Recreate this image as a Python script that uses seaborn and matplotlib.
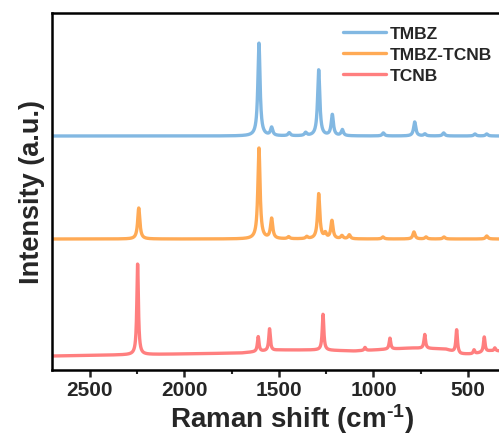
import numpy as np
import pandas as pd
import matplotlib
matplotlib.use("Agg")
import matplotlib.pyplot as plt
import seaborn as sns
from matplotlib.ticker import MultipleLocator

# ---- data ----
series_names = ["TMBZ", "TMBZ-TCNB", "TCNB"]
series_colors = ["#82B8E2", "#FFAA55", "#FF7F7F"]
series_offsets = [234, 131, 14]

# peak centres (cm-1) and heights (a.u.)
tmbz_centers = [1606, 1539, 1446, 1359, 1290, 1218, 1165, 948, 782, 728, 629, 463, 401]
tmbz_heights = [93, 8, 3, 3, 66, 21, 6, 3, 14, 2, 3, 2, 2]

mix_centers = [2242, 1606, 1539, 1449, 1353, 1290, 1255, 1220, 1167, 1128, 950, 786, 722, 627, 401]
mix_heights = [31, 91, 20, 2, 2, 45, 5, 18, 3, 4, 2, 7, 2, 2, 3]

tcnb_centers = [2248, 1610, 1550, 1267, 1045, 913, 729, 560, 468, 414, 358]
tcnb_heights = [91, 15, 22, 36, 3, 11, 14, 23, 4, 15, 3]

# background knots for the TCNB trace
tcnb_bg_x = [2700, 1700, 1500, 1300, 1100, 800, 620, 540, 470, 385, 335]
tcnb_bg_y = [0, 3, 6, 6, 5, 8, 7, 2, 2, 5, 5]

xticks = [2500, 2000, 1500, 1000, 500]

# ---- build spectra ----
x = np.linspace(2701, 336, 3000)

def spectrum(centers, heights, gamma=7.0):
    y = np.zeros_like(x)
    for c, h in zip(centers, heights):
        y += h * gamma**2 / ((x - c) ** 2 + gamma**2)
    return y

ys = [
    spectrum(tmbz_centers, tmbz_heights) + series_offsets[0],
    spectrum(mix_centers, mix_heights) + series_offsets[1],
    spectrum(tcnb_centers, tcnb_heights, gamma=5.0)
    + np.interp(x, tcnb_bg_x[::-1], tcnb_bg_y[::-1]) + series_offsets[2],
]

df = pd.concat(
    [pd.DataFrame({"shift": x, "intensity": y, "sample": n}) for n, y in zip(series_names, ys)],
    ignore_index=True,
)

# ---- plot ----
sns.set_style("white")
plt.rcParams["font.family"] = ["Liberation Sans", "DejaVu Sans"]
plt.rcParams["font.weight"] = "bold"
plt.rcParams["mathtext.fontset"] = "custom"
plt.rcParams["mathtext.rm"] = "Liberation Sans:bold"
plt.rcParams["mathtext.bf"] = "Liberation Sans:bold"
plt.rcParams["mathtext.default"] = "bf"

fig = plt.figure(figsize=(4.99, 4.35), dpi=100)
ax = fig.add_axes([52 / 499, 1 - 371 / 435, 447 / 499, (371 - 14) / 435])

sns.lineplot(
    data=df, x="shift", y="intensity", hue="sample",
    palette=dict(zip(series_names, series_colors)),
    hue_order=series_names, linewidth=2.4, ax=ax, sort=False, estimator=None,
)

ax.set_xlim(2701, 336)
ax.set_ylim(0, 357)
ax.set_xticks(xticks)
ax.set_xticklabels([str(t) for t in xticks], fontsize=15, fontweight="bold")
ax.xaxis.set_minor_locator(MultipleLocator(250))
ax.tick_params(axis="x", which="major", direction="out", length=5, width=1.8, bottom=True, pad=2)
ax.tick_params(axis="x", which="minor", direction="out", length=3, width=1.5, bottom=True)
ax.set_yticks([])
ax.set_xlabel(r"Raman shift (cm$^{\text{-1}}$)", fontsize=20, fontweight="bold")
ax.xaxis.set_label_coords((292 - 52) / 447, -0.086)
ax.set_ylabel("Intensity (a.u.)", fontsize=19.5, fontweight="bold", labelpad=5)
for s in ["left", "bottom", "top"]:
    ax.spines[s].set_linewidth(1.8)
    ax.spines[s].set_color("black")
ax.spines["right"].set_visible(False)

leg = ax.legend(
    loc="upper left", bbox_to_anchor=((343 - 52) / 447, 0.965), frameon=False,
    prop={"weight": "bold", "size": 12.5}, handlelength=2.5,
    handletextpad=0.2, labelspacing=0.36, borderaxespad=0, borderpad=0,
)
for h in leg.get_lines():
    h.set_linewidth(2.4)

fig.savefig("out.png", dpi=100)
